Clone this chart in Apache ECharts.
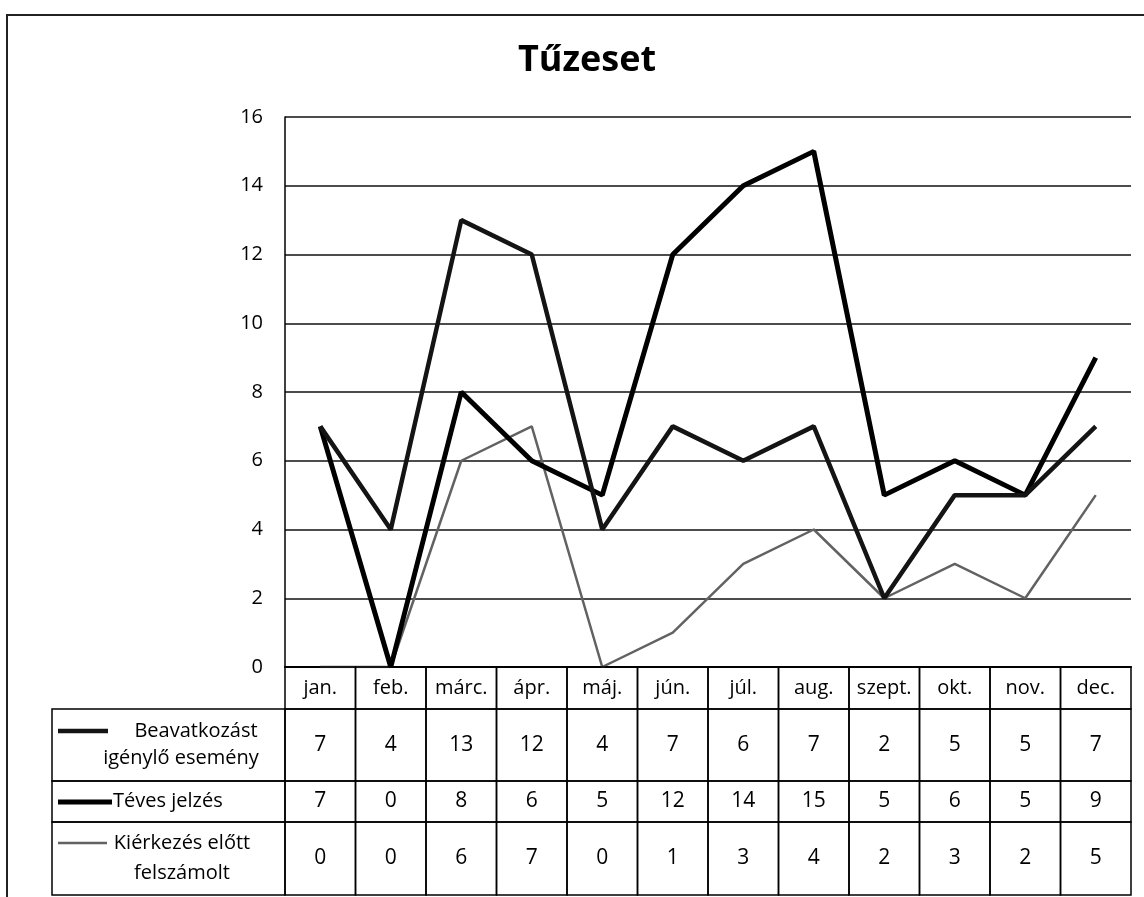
<!DOCTYPE html>
<html>
<head>
<meta charset="utf-8">
<style>
  html, body { margin: 0; padding: 0; background: #fff; }
  #chart { width: 1144px; height: 897px; }
</style>
<script src="https://cdn.jsdelivr.net/npm/echarts@6/dist/echarts.min.js"></script>
</head>
<body>
<div id="chart"></div>
<script>
// data
const months = ['jan.', 'feb.', 'márc.', 'ápr.', 'máj.', 'jún.', 'júl.', 'aug.', 'szept.', 'okt.', 'nov.', 'dec.']
const beavatkozas = [7, 4, 13, 12, 4, 7, 6, 7, 2, 5, 5, 7]
const teves = [7, 0, 8, 6, 5, 12, 14, 15, 5, 6, 5, 9]
const kierkezes = [0, 0, 6, 7, 0, 1, 3, 4, 2, 3, 2, 5]
const seriesNames = ['Beavatkozást igénylő esemény', 'Téves jelzés', 'Kiérkezés előtt felszámolt']

const FONT = '"Open Sans", "Noto Sans", sans-serif'
const lineStyles = [
  { color: '#141414', width: 4.5 },
  { color: '#000', width: 5 },
  { color: '#626262', width: 2.5 }
]

// table geometry
const plotLeft = 285
const plotWidth = 846
const rowTops = [667, 709, 781, 822]
const rowHeights = [42, 72, 41, 73]
const rowValues = [null, beavatkozas, teves, kierkezes]

const chart = echarts.init(document.getElementById('chart'))

const grids = [{ left: plotLeft, width: plotWidth, top: 117, height: 550 }]
const xAxes = [{
  type: 'category',
  gridIndex: 0,
  data: months,
  boundaryGap: true,
  axisLine: { lineStyle: { color: '#000', width: 2 } },
  axisTick: { show: false },
  axisLabel: { show: false }
}]
const yAxes = [{
  type: 'value',
  gridIndex: 0,
  min: 0,
  max: 16,
  interval: 2,
  axisLine: { show: true, lineStyle: { color: '#000', width: 1.5 } },
  axisTick: { show: false },
  axisLabel: { margin: 22, color: '#000', fontSize: 20, fontFamily: FONT },
  splitLine: { lineStyle: { color: '#111', width: 1.6 } }
}]

const series = [beavatkozas, teves, kierkezes].map((vals, k) => ({
  name: seriesNames[k],
  type: 'line',
  xAxisIndex: 0,
  yAxisIndex: 0,
  data: vals,
  symbol: 'none',
  lineStyle: lineStyles[k],
  itemStyle: { color: lineStyles[k].color },
  z: 3 - k
}))

rowTops.forEach((top, r) => {
  const gi = r + 1
  grids.push({ left: plotLeft, width: plotWidth, top: top, height: rowHeights[r] })
  xAxes.push({ type: 'category', gridIndex: gi, data: months, show: false })
  yAxes.push({ type: 'category', gridIndex: gi, data: ['r'], show: false })
  const vals = rowValues[r]
  series.push({
    type: 'custom',
    xAxisIndex: gi,
    yAxisIndex: gi,
    data: months.map((m, i) => [i, 0, vals ? vals[i] : 0]),
    silent: true,
    renderItem(params, api) {
      const i = api.value(0)
      const c = api.coord([i, 0])
      const s = api.size([1, 1])
      return {
        type: 'group',
        children: [
          {
            type: 'rect',
            shape: { x: c[0] - s[0] / 2, y: c[1] - s[1] / 2, width: s[0], height: s[1] },
            style: { fill: 'none', stroke: '#000', lineWidth: 1.5 }
          },
          {
            type: 'text',
            style: {
              text: vals ? String(api.value(2)) : months[i],
              x: c[0],
              y: c[1],
              align: 'center',
              verticalAlign: 'middle',
              fill: '#000',
              font: (vals ? '21px ' : '20px ') + FONT
            }
          }
        ]
      }
    }
  })
})

// legend column of the data table
const legendCol = { left: 52, right: plotLeft }
const legendTexts = [
  [{ t: 'Beavatkozást', x: 196, y: 731, a: 'center' }, { t: 'igénylő esemény', x: 181, y: 758, a: 'center' }],
  [{ t: 'Téves jelzés', x: 113, y: 801, a: 'left' }],
  [{ t: 'Kiérkezés előtt', x: 182, y: 843, a: 'center' }, { t: 'felszámolt', x: 182, y: 873, a: 'center' }]
]
const keyLines = [
  { x1: 58, x2: 108, y: 731 },
  { x1: 58, x2: 112, y: 802 },
  { x1: 58, x2: 107, y: 843 }
]
const graphics = [
  {
    type: 'rect',
    shape: { x: 7, y: 15, width: 1150, height: 900 },
    style: { fill: 'none', stroke: '#222', lineWidth: 2 },
    silent: true
  }
]
for (let r = 1; r < rowTops.length; r++) {
  graphics.push({
    type: 'rect',
    shape: { x: legendCol.left, y: rowTops[r], width: legendCol.right - legendCol.left, height: rowHeights[r] },
    style: { fill: 'none', stroke: '#000', lineWidth: 1.5 },
    silent: true
  })
  const k = keyLines[r - 1]
  graphics.push({
    type: 'line',
    shape: { x1: k.x1, y1: k.y, x2: k.x2, y2: k.y },
    style: { stroke: lineStyles[r - 1].color, lineWidth: lineStyles[r - 1].width },
    silent: true
  })
  legendTexts[r - 1].forEach(t => {
    graphics.push({
      type: 'text',
      style: { text: t.t, x: t.x, y: t.y, align: t.a, verticalAlign: 'middle', fill: '#000', font: '20px ' + FONT },
      silent: true
    })
  })
}

chart.setOption({
  backgroundColor: '#fff',
  animation: false,
  title: {
    text: 'Tűzeset',
    left: 518,
    top: 43,
    padding: 0,
    textStyle: { fontSize: 36, fontWeight: 'bold', color: '#000', fontFamily: FONT }
  },
  legend: { show: false },
  grid: grids,
  xAxis: xAxes,
  yAxis: yAxes,
  series: series,
  graphic: graphics
})
</script>
</body>
</html>
